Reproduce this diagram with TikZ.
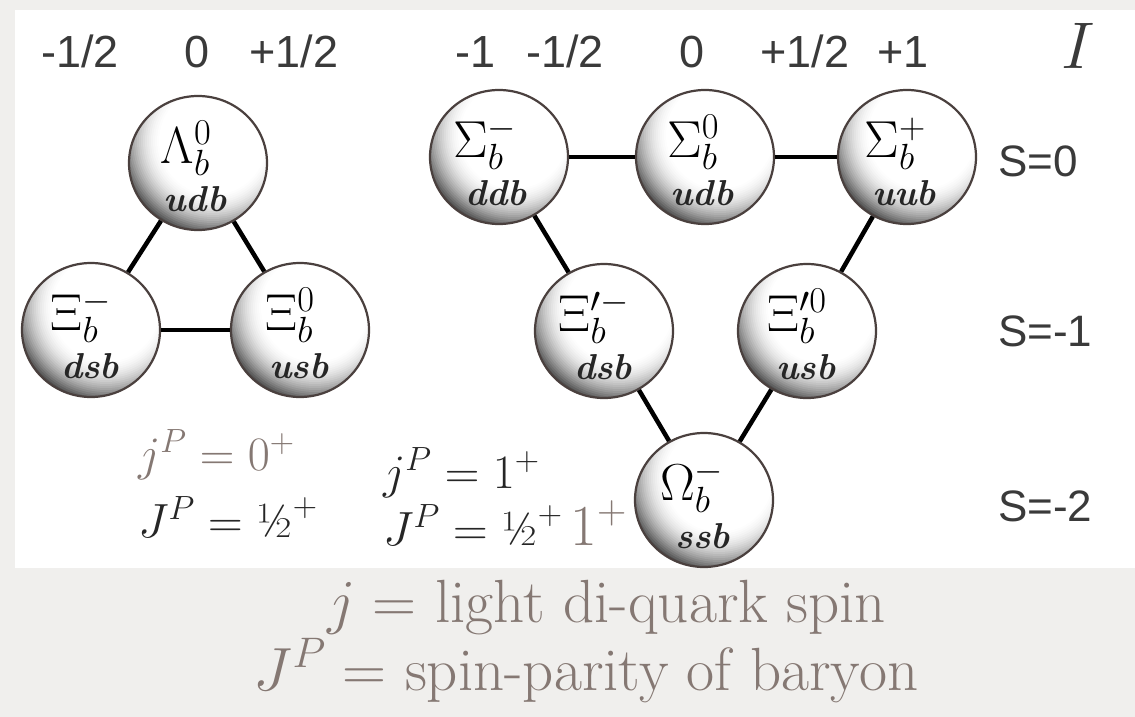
\RequirePackage{fix-cm}
\documentclass[tikz,border=0pt]{standalone}
\usepackage{fontspec}
\setsansfont{Liberation Sans}
\usetikzlibrary{shapes.geometric,calc}
\definecolor{rim}{HTML}{4A403E}
\definecolor{lab}{HTML}{3A3A3A}
\definecolor{capt}{HTML}{857873}
\definecolor{bgg}{HTML}{F0EFED}
\tikzset{
  ball/.style={ellipse, minimum width=138pt, minimum height=134pt, inner sep=0pt,
    draw=rim, line width=2.2pt},
  edge/.style={line width=4.5pt, black},
  sym/.style={anchor=base, inner sep=0pt, text depth=0pt, font=\fontsize{52}{56}\selectfont},
  quark/.style={anchor=base, inner sep=0pt, text height=20pt, text=black!85, font=\fontsize{36}{40}\selectfont\bfseries\itshape},
  iso/.style={anchor=base, inner sep=0pt, text=lab, font=\sffamily\fontsize{45}{48}\selectfont},
  strange/.style={anchor=base west, inner sep=0pt, text=lab, font=\sffamily\fontsize{44}{48}\selectfont},
  spin/.style={anchor=base west, inner sep=0pt, font=\fontsize{48}{52}\selectfont},
  caption/.style={anchor=base, inner sep=0pt, text=capt, font=\fontsize{61}{64}\selectfont}
}
\begin{document}
\begin{tikzpicture}[x=1pt,y=-1pt]
\useasboundingbox (0,0) rectangle (1135,717);
\fill[bgg] (0,0) rectangle (1135,717);
\fill[white] (15,10) rectangle (1135,568);

% isospin labels
\node[iso] (i1) at (80,67) {-1/2};
\node[iso] (i2) at (197,67) {0};
\node[iso] (i3) at (294,67) {+1/2};
\node[iso] (i4) at (476,67) {-1};
\node[iso] (i5) at (565,67) {-1/2};
\node[iso] (i6) at (692,67) {0};
\node[iso] (i7) at (805,67) {+1/2};
\node[iso] (i8) at (903,67) {+1};
\node[anchor=base, inner sep=0pt, text=lab, font=\fontsize{66}{70}\selectfont] (I) at (1078,68) {$I$};

% strangeness labels
\node[strange] (s0) at (998,176) {S=0};
\node[strange] (s1) at (998,346) {S=-1};
\node[strange] (s2) at (998,521) {S=-2};

% ball positions
\coordinate (cL) at (198,163);
\coordinate (cXm) at (91,330);
\coordinate (cX0) at (300,330);
\coordinate (cSm) at (499,157);
\coordinate (cS0) at (705,157);
\coordinate (cSp) at (907,157);
\coordinate (cYpm) at (604,331);
\coordinate (cYp0) at (807,331);
\coordinate (cOm) at (704,500);

% ball shading (light upper right, dark lower left)
\foreach \c in {cL,cXm,cX0,cSm,cS0,cSp,cYpm,cYp0,cOm}{
  \begin{scope}
    \clip (\c) ellipse [x radius=69, y radius=67];
    \foreach \r in {114,112,...,54}{
      \pgfmathsetmacro\k{min(86,max(0,0.035*(\r-54)^2+0.3*(\r-54)))}
      \fill[black!\k] ($(\c)+(15,-22)$) circle [radius=\r];
    }
  \end{scope}
}

% balls
\node[ball] (L) at (cL) {};
\node[ball] (Xm) at (cXm) {};
\node[ball] (X0) at (cX0) {};
\node[ball] (Sm) at (cSm) {};
\node[ball] (S0) at (cS0) {};
\node[ball] (Sp) at (cSp) {};
\node[ball] (Ypm) at (cYpm) {};
\node[ball] (Yp0) at (cYp0) {};
\node[ball] (Om) at (cOm) {};

% connectors
\draw[edge] (L) -- (Xm);
\draw[edge] (L) -- (X0);
\draw[edge] (Xm) -- (X0);
\draw[edge] (Sm) -- (S0);
\draw[edge] (S0) -- (Sp);
\draw[edge] (Sm) -- (Ypm);
\draw[edge] (Sp) -- (Yp0);
\draw[edge] (Ypm) -- (Om);
\draw[edge] (Yp0) -- (Om);

% ball texts
\node[sym] (L-s) at ($(L)+(-12,0)$) {$\Lambda_b^0$};
\node[quark] (L-q) at ($(L)+(-3,48)$) {udb};
\node[sym] (Xm-s) at ($(Xm)+(-10,0)$) {$\Xi_b^-$};
\node[quark] (Xm-q) at ($(Xm)+(-1,48)$) {dsb};
\node[sym] (X0-s) at ($(X0)+(-10,0)$) {$\Xi_b^0$};
\node[quark] (X0-q) at ($(X0)+(-1,48)$) {usb};
\node[sym] (Sm-s) at ($(Sm)+(-14,0)$) {$\Sigma_b^-$};
\node[quark] (Sm-q) at ($(Sm)+(-3,48)$) {ddb};
\node[sym] (S0-s) at ($(S0)+(-12,0)$) {$\Sigma_b^0$};
\node[quark] (S0-q) at ($(S0)+(-3,48)$) {udb};
\node[sym] (Sp-s) at ($(Sp)+(-12,0)$) {$\Sigma_b^+$};
\node[quark] (Sp-q) at ($(Sp)+(-3,48)$) {uub};
\node[sym] (Ypm-s) at ($(Ypm)+(-10,0)$) {$\Xi_b^{\prime -}$};
\node[quark] (Ypm-q) at ($(Ypm)+(-1,48)$) {dsb};
\node[sym] (Yp0-s) at ($(Yp0)+(-10,0)$) {$\Xi_b^{\prime 0}$};
\node[quark] (Yp0-q) at ($(Yp0)+(-1,48)$) {usb};
\node[sym] (Om-s) at ($(Om)+(-12,0)$) {$\Omega_b^-$};
\node[quark] (Om-q) at ($(Om)+(-1,48)$) {ssb};

% spin-parity labels
\node[spin, text=capt] (jp0) at (138,470) {$j^P = 0^+$};
\node[spin, text=black!85] (Jp0) at (138,537) {$J^P = \mbox{½}^+$};
\node[spin, text=black!85] (jp1) at (383,488) {$j^P = 1^+$};
\node[spin, text=black!85] (Jp1) at (383,545) {$J^P = \mbox{½}^+\,${\color{capt}\fontsize{58}{60}\selectfont$1^+$}};

% captions
\node[caption] (c1) at (607,622) {$j =$ light di-quark spin};
\node[caption] (c2) at (586,690) {$J^P =$ spin-parity of baryon};
\end{tikzpicture}
\end{document}
